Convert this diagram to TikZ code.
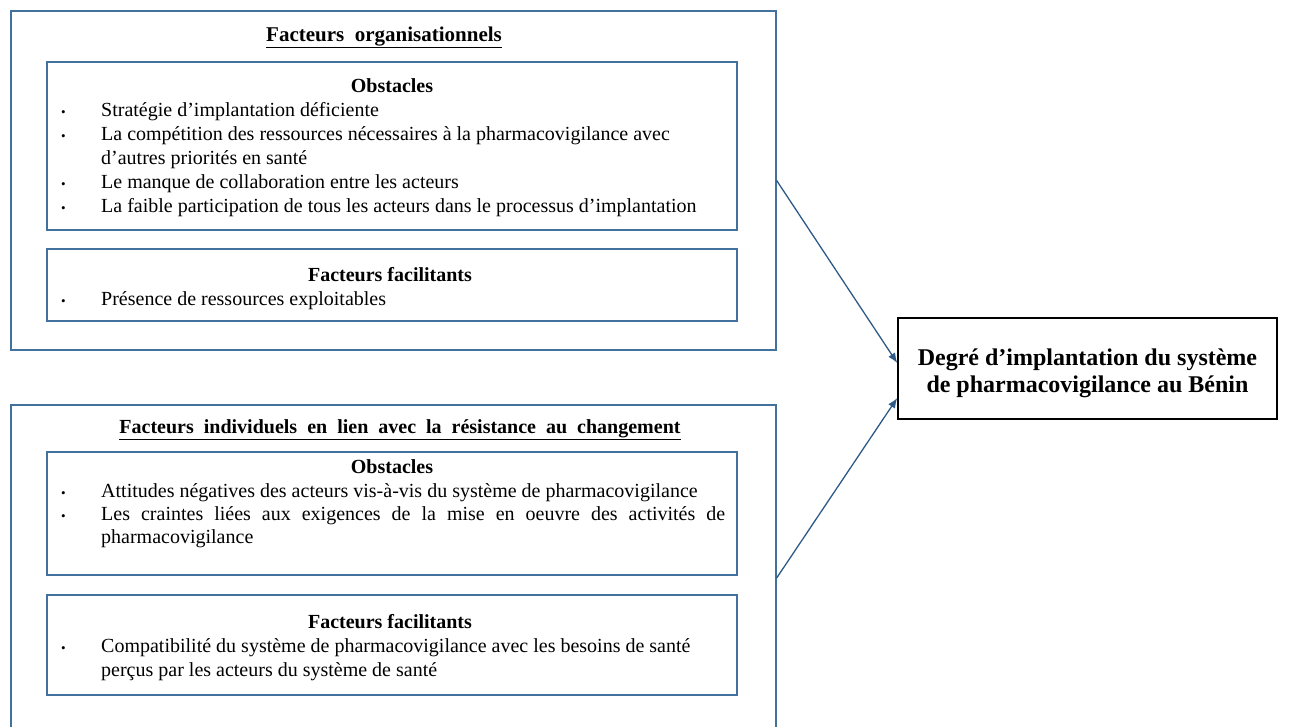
\documentclass[tikz,border=0pt]{standalone}
\usepackage{fontspec}
\setmainfont{Liberation Serif}
\usetikzlibrary{arrows.meta,calc}
\definecolor{boxblue}{RGB}{65,113,156}
\definecolor{arrowblue}{RGB}{45,90,135}
\newcommand{\bitem}[1]{\par\noindent\llap{\makebox[40pt][l]{\hspace{0pt}{\fontsize{13}{13}\selectfont\textbullet}}}#1}
\newcommand{\ragbody}[1]{\vtop{\hsize=624pt\fontsize{20}{24}\selectfont\raggedright\parindent=0pt #1}}
\newcommand{\jusbody}[1]{\vtop{\hsize=624pt\fontsize{20}{23}\selectfont\parindent=0pt #1}}
\begin{document}
\begin{tikzpicture}[x=1pt,y=-1pt,
  blbox/.style={draw=boxblue,line width=1.3pt,inner sep=0pt,minimum width=690pt},
  outbox/.style={draw=boxblue,line width=1.3pt,inner sep=0pt,minimum width=765pt},
  ttl/.style={inner sep=0pt,anchor=base,font=\bfseries\fontsize{20}{24}\selectfont},
  body/.style={inner sep=0pt,anchor=base west},
  conn/.style={draw=arrowblue,line width=1.3pt,-{Latex[length=10pt,width=8pt]}}]
\useasboundingbox (0,0) rectangle (1296,726);
\clip (0,0) rectangle (1296,726);
% top group
\node[outbox,minimum height=339pt] (ot) at (393.5,180.5) {};
\node[ttl,font=\bfseries\fontsize{21}{24}\selectfont] (tt) at (384,41) {\underline{Facteurs\ \ organisationnels}};
\node[blbox,minimum height=168pt] (o1) at (392,146) {};
\node[ttl] (o1t) at (392,92) {Obstacles};
\node[body] (o1b) at (101,116) {\ragbody{%
\bitem{Stratégie d’implantation déficiente}%
\bitem{La compétition des ressources nécessaires à la pharmacovigilance avec\\ d’autres priorités en santé}%
\bitem{Le manque de collaboration entre les acteurs}%
\bitem{La faible participation de tous les acteurs dans le processus d’implantation}}};
\node[blbox,minimum height=72pt] (f1) at (392,285) {};
\node[ttl] (f1t) at (390,281) {Facteurs facilitants};
\node[body] (f1b) at (101,305) {\ragbody{\bitem{Présence de ressources exploitables}}};
% bottom group
\node[outbox,minimum height=346pt] (ob) at (393.5,578) {};
\node[ttl] (bt) at (400,433) {\underline{Facteurs\ \ individuels\ \ en\ \ lien\ \ avec\ \ la\ \ résistance\ \ au\ \ changement}};
\node[blbox,minimum height=123pt] (o2) at (392,513.5) {};
\node[ttl] (o2t) at (392,473) {Obstacles};
\node[body] (o2b) at (101,497) {\jusbody{%
\bitem{Attitudes négatives des acteurs vis-à-vis du système de pharmacovigilance}%
\bitem{Les craintes liées aux exigences de la mise en oeuvre des activités de\linebreak pharmacovigilance}}};
\node[blbox,minimum height=100pt] (f2) at (392,645) {};
\node[ttl] (f2t) at (390,628) {Facteurs facilitants};
\node[body] (f2b) at (101,652) {\ragbody{\bitem{Compatibilité du système de pharmacovigilance avec les besoins de santé\\ perçus par les acteurs du système de santé}}};
% right box
\node[draw=black,line width=1.5pt,minimum width=379pt,minimum height=101pt,inner sep=0pt] (dg) at (1087.5,368.5) {};
\node[inner sep=0pt,anchor=base] (dgt) at (1087.5,365) {\vtop{\hsize=379pt\centering\bfseries\fontsize{24}{27}\selectfont Degré d’implantation du système\\ de pharmacovigilance au Bénin}};
% connectors
\draw[conn] (ot.east) -- ($(dg.west)+(0,-5.5)$);
\draw[conn] (ob.east) -- ($(dg.west)+(0,29.5)$);
\end{tikzpicture}
\end{document}
